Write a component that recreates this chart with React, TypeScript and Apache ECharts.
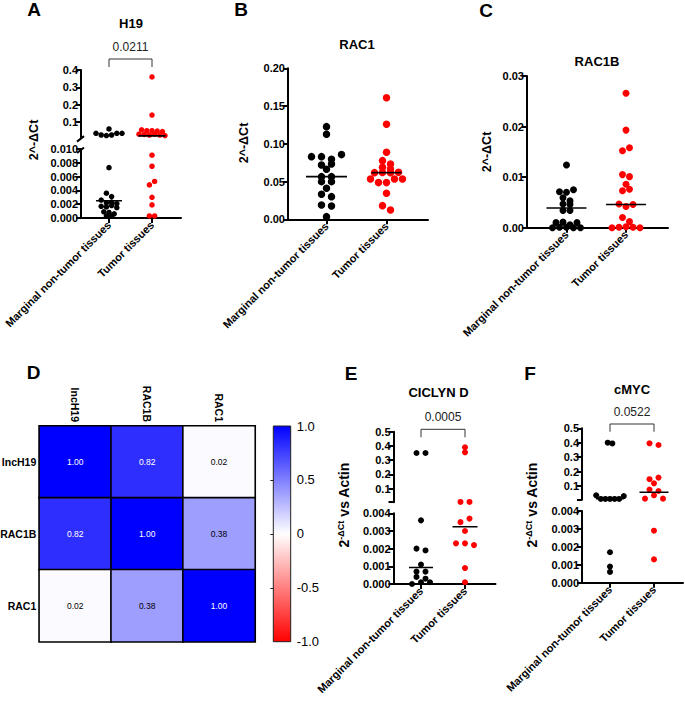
import React, { useEffect, useRef } from "react";
import * as echarts from "echarts";

// ---------------- data ----------------
const groupNames = ["Marginal non-tumor tissues", "Tumor tissues"];
const panelTitles = ["H19", "RAC1", "RAC1B", "CICLYN D", "cMYC"];
const panelLetters = ["A", "B", "C", "D", "E", "F"];

// H19 (broken axis)
const h19Marginal = [0.06, 0.035, 0.025, 0.022, 0.025, 0.035, 0.035, 0.0073, 0.0036, 0.0031, 0.0026, 0.0022, 0.0023, 0.0021, 0.0017, 0.0016, 0.0018, 0.0015, 0.0009, 0.0008, 0.0006, 0.0003, 0.0003];
const h19Tumor = [0.36, 0.14, 0.055, 0.05, 0.05, 0.048, 0.045, 0.03, 0.028, 0.025, 0.03, 0.025, 0.022, 0.0091, 0.0075, 0.0048, 0.0053, 0.003, 0.0019, 0.0003, 0.0003];
const h19Medians = [0.0025, 0.02];
const h19P = "0.0211";
const h19UpperTicks = [0.1, 0.2, 0.3, 0.4];
const h19LowerTicks = [0, 0.002, 0.004, 0.006, 0.008, 0.01];

// RAC1
const rac1Marginal = [0.1227, 0.1126, 0.083, 0.083, 0.0795, 0.0857, 0.072, 0.0662, 0.0733, 0.0565, 0.0499, 0.0499, 0.0565, 0.0411, 0.0331, 0.03, 0.019, 0.0177, 0.0035];
const rac1Tumor = [0.161, 0.1258, 0.0888, 0.0777, 0.0733, 0.0689, 0.0667, 0.0618, 0.062, 0.0618, 0.0622, 0.0534, 0.0486, 0.0486, 0.0534, 0.0534, 0.0344, 0.0181, 0.0124];
const rac1Medians = [0.0565, 0.0618];
const rac1Ticks = [0, 0.05, 0.1, 0.15, 0.2];

// RAC1B
const rac1bMarginal = [0.0124, 0.0071, 0.007, 0.0075, 0.0059, 0.0053, 0.0047, 0.0046, 0.0034, 0.0034, 0.001, 0.0011, 0.0006, 0.001, 0.0, 0.0001, 0.0001, 0.0, 0.0];
const rac1bTumor = [0.0266, 0.0193, 0.0152, 0.0158, 0.0105, 0.0101, 0.0086, 0.0073, 0.0076, 0.0047, 0.0042, 0.0046, 0.002, 0.0012, 0.0, 0.0001, 0.0002, 0.0001, 0.0];
const rac1bMedians = [0.0039, 0.0046];
const rac1bTicks = [0, 0.01, 0.02, 0.03];

// CICLYN D (broken axis)
const ccndMarginal = [0.35, 0.35, 0.0036, 0.002, 0.0019, 0.0011, 0.0007, 0.0007, 0.0004, 0.0003, 0.0, 0.0001, 0.0001];
const ccndTumor = [0.39, 0.355, 0.006, 0.006, 0.0035, 0.0037, 0.003, 0.0023, 0.0023, 0.0022, 0.0009, 0.0001];
const ccndMedians = [0.00093, 0.00324];
const ccndP = "0.0005";

// cMYC (broken axis)
const cmycMarginal = [0.4, 0.395, 0.035, 0.01, 0.01, 0.01, 0.01, 0.01, 0.03, 0.0017, 0.0009, 0.0006];
const cmycTumor = [0.396, 0.384, 0.147, 0.158, 0.118, 0.075, 0.065, 0.012, 0.035, 0.012, 0.0029, 0.0013];
const cmycMedians = [0.012, 0.056];
const cmycP = "0.0522";

const brokenUpperTicks = [0.1, 0.2, 0.3, 0.4, 0.5];
const brokenLowerTicks = [0, 0.001, 0.002, 0.003, 0.004];

// correlation heatmap
const corrLabels = ["lncH19", "RAC1B", "RAC1"];
const corrRow1 = [1.0, 0.82, 0.02];
const corrRow2 = [0.82, 1.0, 0.38];
const corrRow3 = [0.02, 0.38, 1.0];
const colorbarLabels = [-1, -0.5, 0, 0.5, 1];
const colorbarTicks = [-0.5, 0, 0.5];

const yNameDelta = "2^-ΔCt";
const yNameActinSup = "-ΔCt";
const yNameActinRest = " vs Actin";

// ---------------- layout ----------------
const FONT = "'Liberation Sans', Arial, Helvetica, sans-serif";
const TICK_FS = 11;
const CAT_FS = 11;

interface Seg {
  top: number;
  height: number;
  min: number;
  max: number;
  tickVals: number[];
  labelVals: number[];
  digits: number;
}
interface PanelCfg {
  left: number;
  width: number;
  c0: number;
  gap: number;
  segs: Seg[];
  dot: number;
  rowGap: number;
  spacing: number[];
  medHalf: number[];
}

const cfgA: PanelCfg = {
  left: 81, width: 100, c0: 28, gap: 43,
  segs: [
    { top: 70, height: 67.6, min: 0.01, max: 0.4, tickVals: h19UpperTicks, labelVals: h19UpperTicks, digits: 1 },
    { top: 149, height: 69, min: 0, max: 0.01, tickVals: h19LowerTicks, labelVals: h19LowerTicks, digits: 3 },
  ],
  dot: 5.5, rowGap: 4, spacing: [5.2, 5.2], medHalf: [13, 13.5],
};
const cfgB: PanelCfg = {
  left: 288, width: 140, c0: 38.5, gap: 60,
  segs: [{ top: 68.3, height: 151, min: 0, max: 0.2, tickVals: rac1Ticks, labelVals: rac1Ticks, digits: 2 }],
  dot: 7.5, rowGap: 4.8, spacing: [10, 8], medHalf: [20.5, 15],
};
const cfgC: PanelCfg = {
  left: 527, width: 141, c0: 39.5, gap: 59.5,
  segs: [{ top: 76, height: 151.7, min: 0, max: 0.03, tickVals: rac1bTicks, labelVals: rac1bTicks, digits: 2 }],
  dot: 7, rowGap: 5, spacing: [7, 7], medHalf: [20, 20],
};
const cfgE: PanelCfg = {
  left: 393.5, width: 102, c0: 27.5, gap: 44,
  segs: [
    { top: 431.7, height: 70.5, min: 0.004, max: 0.5, tickVals: [0.004, ...brokenUpperTicks], labelVals: brokenUpperTicks, digits: 1 },
    { top: 513.3, height: 70.7, min: 0, max: 0.004, tickVals: brokenLowerTicks, labelVals: brokenLowerTicks, digits: 3 },
  ],
  dot: 6, rowGap: 4.5, spacing: [9, 9], medHalf: [12, 12.5],
};
const cfgF: PanelCfg = {
  left: 582, width: 101, c0: 28, gap: 44,
  segs: [
    { top: 428.3, height: 71.5, min: 0.004, max: 0.5, tickVals: [0.004, ...brokenUpperTicks], labelVals: brokenUpperTicks, digits: 1 },
    { top: 511, height: 71.7, min: 0, max: 0.004, tickVals: brokenLowerTicks, labelVals: brokenLowerTicks, digits: 3 },
  ],
  dot: 6, rowGap: 4.5, spacing: [4.6, 9], medHalf: [14, 14.5],
};

function segOf(cfg: PanelCfg, v: number): number {
  for (let i = cfg.segs.length - 1; i >= 0; i--) {
    if (v <= cfg.segs[i].max || i === 0) return i;
  }
  return 0;
}

function pixelY(cfg: PanelCfg, v: number): number {
  const s = cfg.segs[segOf(cfg, v)];
  return s.top + ((s.max - v) / (s.max - s.min)) * s.height;
}

// row-based scatter-dot layout: points of near-equal value are spread horizontally
function swarm(values: number[], cfg: PanelCfg, s: number): number[] {
  const py = values.map((v) => pixelY(cfg, v));
  const order = values.map((_, i) => i).sort((a, b) => py[a] - py[b] || a - b);
  const offs = new Array(values.length).fill(0);
  let row: number[] = [];
  let start = 0;
  const flush = () => {
    const r = [...row].sort((a, b) => a - b);
    r.forEach((idx, k) => {
      offs[idx] = (k - (r.length - 1) / 2) * s;
    });
  };
  order.forEach((i) => {
    if (row.length && py[i] - start < cfg.rowGap) row.push(i);
    else {
      if (row.length) flush();
      row = [i];
      start = py[i];
    }
  });
  if (row.length) flush();
  return offs;
}

const axisColor = "#000";

function addPanel(opt: any, cfg: PanelCfg, groupsVals: number[][], medians: number[]) {
  const xMin = -cfg.c0 / cfg.gap;
  const xMax = (cfg.width - cfg.c0) / cfg.gap;
  const gIdx: number[] = [];
  cfg.segs.forEach((seg, si) => {
    const gi = opt.grid.length;
    gIdx.push(gi);
    const last = si === cfg.segs.length - 1;
    opt.grid.push({ left: cfg.left, top: seg.top, width: cfg.width, height: seg.height, containLabel: false, outerBoundsMode: "none" });
    opt.xAxis.push({
      type: "value", gridIndex: gi, min: xMin, max: xMax, show: last,
      axisLine: { show: true, onZero: false, lineStyle: { color: axisColor, width: 2 } },
      axisTick: { show: true, customValues: [0, 1], length: 5, lineStyle: { color: axisColor, width: 2 } },
      axisLabel: {
        customValues: [0, 1],
        formatter: (v: number) => groupNames[Math.round(v)] ?? "",
        rotate: 45, margin: 5, fontSize: CAT_FS, fontWeight: "bold", color: "#000", fontFamily: FONT,
      },
      splitLine: { show: false },
    });
    opt.yAxis.push({
      type: "value", gridIndex: gi, min: seg.min, max: seg.max,
      axisLine: { show: true, onZero: false, lineStyle: { color: axisColor, width: 2 } },
      axisTick: { show: true, customValues: seg.tickVals, length: 5, lineStyle: { color: axisColor, width: 2 } },
      axisLabel: {
        customValues: seg.labelVals,
        formatter: (v: number) => v.toFixed(seg.digits),
        margin: 3, fontSize: TICK_FS, fontWeight: "bold", color: "#000", fontFamily: FONT,
      },
      splitLine: { show: false },
    });
  });
  groupsVals.forEach((vals, g) => {
    const offs = swarm(vals, cfg, cfg.spacing[g]);
    cfg.segs.forEach((_, si) => {
      const data = vals
        .map((v, i) => ({ x: g + offs[i] / cfg.gap, v, s: segOf(cfg, v) }))
        .filter((d) => d.s === si)
        .map((d) => [d.x, d.v]);
      if (data.length)
        opt.series.push({
          type: "scatter", xAxisIndex: gIdx[si], yAxisIndex: gIdx[si], data,
          symbolSize: cfg.dot, itemStyle: { color: g === 0 ? "#000000" : "#ff0000", opacity: 1 },
          clip: false, silent: true, z: 3,
        });
    });
    const m = medians[g];
    const si = segOf(cfg, m);
    const h = cfg.medHalf[g] / cfg.gap;
    opt.series.push({
      type: "line", xAxisIndex: gIdx[si], yAxisIndex: gIdx[si],
      data: [[g - h, m], [g + h, m]], symbol: "none",
      lineStyle: { color: "#000", width: 1.6 }, silent: true, z: 4, clip: false,
    });
  });
}

function txt(text: string, x: number, y: number, size: number, weight: string, extra: any = {}) {
  return {
    type: "text", x, y, silent: true,
    style: { text, fontSize: size, fontWeight: weight, fontFamily: FONT, fill: "#000", align: "center", verticalAlign: "middle", ...extra },
  };
}

function bracket(cfg: PanelCfg, yTop: number, yLeg: number) {
  const x0 = cfg.left + cfg.c0;
  const x1 = x0 + cfg.gap;
  return {
    type: "polyline", silent: true,
    shape: { points: [[x0, yLeg], [x0, yTop], [x1, yTop], [x1, yLeg]] },
    style: { stroke: "#333", lineWidth: 1, fill: "none" },
  };
}

function buildOption() {
  const opt: any = {
    animation: false,
    backgroundColor: "#ffffff",
    textStyle: { fontFamily: FONT },
    grid: [],
    xAxis: [],
    yAxis: [],
    series: [],
    visualMap: [],
    graphic: [],
  };

  addPanel(opt, cfgA, [h19Marginal, h19Tumor], h19Medians);
  addPanel(opt, cfgB, [rac1Marginal, rac1Tumor], rac1Medians);
  addPanel(opt, cfgC, [rac1bMarginal, rac1bTumor], rac1bMedians);
  addPanel(opt, cfgE, [ccndMarginal, ccndTumor], ccndMedians);
  addPanel(opt, cfgF, [cmycMarginal, cmycTumor], cmycMedians);

  // ---- heatmap D ----
  const hm = { left: 39.3, top: 426, size: 215.7 };
  const hmGrid = opt.grid.length;
  opt.grid.push({ left: hm.left, top: hm.top, width: hm.size, height: hm.size, containLabel: false, outerBoundsMode: "none" });
  const catLabel = { fontSize: 10.5, fontWeight: "bold", color: "#000", fontFamily: FONT };
  opt.xAxis.push({
    type: "category", gridIndex: hmGrid, data: corrLabels, position: "top",
    axisLine: { show: false }, axisTick: { show: false }, splitLine: { show: false },
    axisLabel: { ...catLabel, rotate: 90, margin: 4 },
  });
  opt.yAxis.push({
    type: "category", gridIndex: hmGrid, data: corrLabels, inverse: true,
    axisLine: { show: false }, axisTick: { show: false }, splitLine: { show: false },
    axisLabel: { ...catLabel, margin: 3 },
  });
  const corr = [corrRow1, corrRow2, corrRow3];
  const hmSeries = opt.series.length;
  opt.series.push({
    type: "heatmap", xAxisIndex: hmGrid, yAxisIndex: hmGrid, silent: true,
    data: corr.flatMap((row, r) =>
      row.map((v, c) => ({ value: [c, r, v], label: { color: v > 0.6 ? "#ffffff" : "#000000" } }))
    ),
    label: { show: true, formatter: (p: any) => Number(p.value[2]).toFixed(2), fontSize: 8.5, fontFamily: FONT },
    itemStyle: { borderColor: "#000", borderWidth: 1.6 },
  });
  opt.visualMap.push({
    type: "continuous", show: false, min: -1, max: 1, dimension: 2, seriesIndex: hmSeries,
    inRange: { color: ["#ff0000", "#ffffff", "#0000ff"] },
  });

  // colorbar axis
  const cb = { left: 273.3, top: 426, width: 17.4, height: 215.7 };
  const cbGrid = opt.grid.length;
  opt.grid.push({ left: cb.left, top: cb.top, width: cb.width, height: cb.height, containLabel: false, outerBoundsMode: "none" });
  opt.xAxis.push({ type: "value", gridIndex: cbGrid, show: false, min: 0, max: 1 });
  opt.yAxis.push({
    type: "value", gridIndex: cbGrid, min: -1, max: 1, position: "right",
    axisLine: { show: false }, splitLine: { show: false },
    axisTick: { show: true, customValues: colorbarTicks, length: 3, lineStyle: { color: "#222", width: 1 } },
    axisLabel: {
      customValues: colorbarLabels,
      formatter: (v: number) => (v === 0 ? "0" : v.toFixed(1)),
      fontSize: 13, color: "#000", margin: 6, fontFamily: FONT,
    },
  });
  opt.yAxis.push({
    type: "value", gridIndex: cbGrid, min: -1, max: 1, position: "left",
    axisLine: { show: false }, splitLine: { show: false },
    axisTick: { show: true, customValues: colorbarTicks, length: 3, lineStyle: { color: "#222", width: 1 } },
    axisLabel: { show: false },
  });
  opt.series.push({ type: "scatter", xAxisIndex: cbGrid, yAxisIndex: opt.yAxis.length - 2, data: [] });

  // ---- graphics ----
  const g: any[] = opt.graphic;
  g.push({
    type: "rect", silent: true, z: 1,
    shape: { x: cb.left, y: cb.top, width: cb.width, height: cb.height },
    style: {
      fill: new echarts.graphic.LinearGradient(0, 0, 0, 1, [
        { offset: 0, color: "#0000ff" },
        { offset: 0.5, color: "#ffffff" },
        { offset: 1, color: "#ff0000" },
      ]),
      stroke: "#222", lineWidth: 1,
    },
  });

  // panel letters
  const letterPos = [[34, 9], [241, 9.5], [486, 10], [33.5, 372], [351, 373], [530, 373]];
  panelLetters.forEach((L, i) => g.push(txt(L, letterPos[i][0], letterPos[i][1], 19, "bold")));

  // titles
  const titlePos = [[131, 23], [357, 44], [597, 61], [438.5, 392], [632, 389]];
  panelTitles.forEach((t, i) => g.push(txt(t, titlePos[i][0], titlePos[i][1], 13, "bold")));

  // y-axis names
  const rot = Math.PI / 2;
  [[34, 140], [244, 143], [487, 152]].forEach(([x, y]) =>
    g.push({ ...txt(yNameDelta, x, y, 12.5, "bold"), rotation: rot })
  );
  [[344, 505], [532, 505]].forEach(([x, y]) =>
    g.push({
      type: "text", x, y, rotation: rot, silent: true,
      style: {
        text: `{a|2}{b|${yNameActinSup}}{a|${yNameActinRest}}`,
        align: "center", verticalAlign: "middle", fill: "#000",
        rich: {
          a: { fontSize: 14, fontWeight: "bold", fontFamily: FONT, fill: "#000", lineHeight: 16 },
          b: { fontSize: 9, fontWeight: "bold", fontFamily: FONT, fill: "#000", verticalAlign: "top", lineHeight: 10 },
        },
      },
    })
  );

  // p-values + brackets
  g.push(txt(h19P, cfgA.left + cfgA.c0 + cfgA.gap / 2, 47, 12, "normal", { fill: "#222" }));
  g.push(bracket(cfgA, 59, 67));
  g.push(txt(ccndP, cfgE.left + cfgE.c0 + cfgE.gap / 2, 416.7, 12, "normal", { fill: "#222" }));
  g.push(bracket(cfgE, 429.3, 437.3));
  g.push(txt(cmycP, cfgF.left + cfgF.c0 + cfgF.gap / 2, 412.3, 12, "normal", { fill: "#222" }));
  g.push(bracket(cfgF, 424, 431.7));

  // axis break marks on panel A
  const upperEnd = cfgA.segs[0].top + cfgA.segs[0].height;
  const lowerStart = cfgA.segs[1].top;
  [upperEnd + 1.5, lowerStart + 1.5].forEach((yy) =>
    g.push({
      type: "line", silent: true,
      shape: { x1: cfgA.left - 4, y1: yy + 2.5, x2: cfgA.left + 3, y2: yy - 3 },
      style: { stroke: "#000", lineWidth: 2 },
    })
  );

  return opt;
}

export default function App() {
  const ref = useRef<HTMLDivElement>(null);
  useEffect(() => {
    if (!ref.current) return;
    const chart = echarts.init(ref.current, undefined, { renderer: "svg" });
    chart.setOption(buildOption());
    return () => chart.dispose();
  }, []);
  return (
    <div
      ref={ref}
      style={{ position: "absolute", left: 0, top: 0, width: 685, height: 710, background: "#fff" }}
    />
  );
}
